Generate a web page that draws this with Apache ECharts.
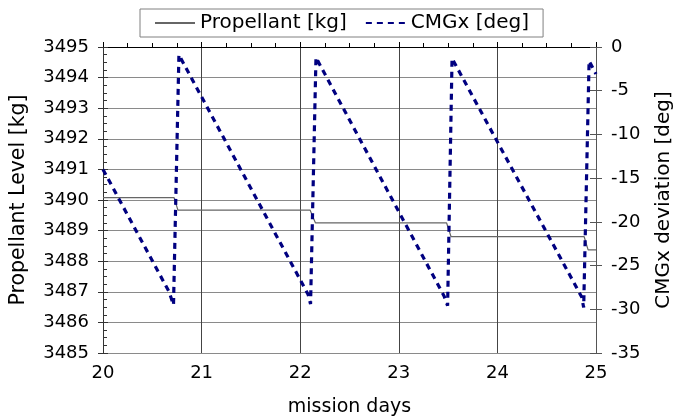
<!DOCTYPE html>
<html>
<head>
<meta charset="utf-8">
<script src="https://cdn.jsdelivr.net/npm/echarts@6/dist/echarts.min.js"></script>
<style>
  html, body { margin: 0; padding: 0; background: #fff; }
  #chart { width: 677px; height: 417px; }
</style>
</head>
<body>
<div id="chart"></div>
<script>
// mission days / propellant steps [kg]
var propDays = [20, 20.72, 20.76, 22.10, 22.155, 23.485, 23.53, 24.88, 24.92, 25];
var propKg   = [3490.08, 3490.08, 3489.67, 3489.67, 3489.25, 3489.25, 3488.8, 3488.8, 3488.37, 3488.37];
// CMGx deviation saw-tooth [deg]
var cmgDays = [20, 20.67, 20.715, 20.77, 22.08, 22.105, 22.16, 23.46, 23.495, 23.54, 24.855, 24.875, 24.93, 25];
var cmgDeg  = [-14, -28.0, -29.5, -0.9, -28.3, -29.4, -1.2, -28.5, -29.6, -1.3, -28.6, -29.8, -1.6, -3.1];

var FONT = 'DejaVu Sans';

function pairs(xs, ys) {
    var out = [];
    for (var i = 0; i < xs.length; i++) out.push([xs[i], ys[i]]);
    return out;
}
function plain(v) { return String(v); }

var chart = echarts.init(document.getElementById('chart'));
var tickFont = { color: '#000', fontFamily: FONT, fontSize: 18 };

option = {
    backgroundColor: '#fff',
    animation: false,
    textStyle: { fontFamily: FONT },
    grid: { left: 103, right: 81, top: 47, bottom: 64, outerBoundsMode: 'none', containLabel: false },
    legend: {
        left: 140, top: 9,
        padding: [4, 14, 4, 14],
        borderColor: '#808080', borderWidth: 1,
        itemWidth: 40, itemHeight: 12, itemGap: 18,
        itemStyle: { opacity: 0 },
        textStyle: { color: '#000', fontFamily: FONT, fontSize: 20 },
        data: ['Propellant [kg]', 'CMGx [deg]']
    },
    xAxis: {
        type: 'value', min: 20, max: 25, interval: 1,
        name: 'mission days', nameLocation: 'middle', nameGap: 45,
        nameTextStyle: { color: '#000', fontFamily: FONT, fontSize: 19 },
        axisLine: { lineStyle: { color: '#000', width: 1 } },
        axisTick: { inside: true, length: 5, lineStyle: { color: '#000' } },
        minorTick: { show: true, splitNumber: 4, length: 4, lineStyle: { color: '#000' } },
        axisLabel: Object.assign({ margin: 11, formatter: plain }, tickFont),
        splitLine: { show: true, lineStyle: { color: '#444', width: 1 } }
    },
    yAxis: [{
        type: 'value', position: 'left', min: 3485, max: 3495, interval: 1,
        name: 'Propellant Level [kg]', nameLocation: 'middle', nameGap: 74,
        nameTextStyle: { color: '#000', fontFamily: FONT, fontSize: 20.5 },
        axisLine: { show: true, lineStyle: { color: '#333' } },
        axisTick: { inside: true, length: 5, lineStyle: { color: '#333' } },
        minorTick: { show: true, splitNumber: 4, length: 4, lineStyle: { color: '#333' } },
        axisLabel: Object.assign({ margin: 14, formatter: plain }, tickFont),
        splitLine: { show: true, showMaxLine: false, lineStyle: { color: '#8a8a8a', width: 1 } }
    }, {
        type: 'value', position: 'right', min: -35, max: 0, interval: 5,
        name: 'CMGx deviation [deg]', nameLocation: 'middle', nameGap: 58,
        nameTextStyle: { color: '#000', fontFamily: FONT, fontSize: 20 },
        axisLine: { show: true, lineStyle: { color: '#555' } },
        axisTick: { inside: false, length: 6, lineStyle: { color: '#555' } },
        axisLabel: Object.assign({ margin: 15, formatter: plain }, tickFont),
        splitLine: { show: false }
    }, {
        // outward half of the crossing left ticks
        type: 'value', position: 'left', min: 3485, max: 3495, interval: 1,
        axisLine: { show: false },
        axisTick: { inside: false, length: 5, lineStyle: { color: '#333' } },
        axisLabel: { show: false }, splitLine: { show: false }
    }, {
        // inward half of the crossing right ticks
        type: 'value', position: 'right', min: -35, max: 0, interval: 5,
        axisLine: { show: false },
        axisTick: { inside: true, length: 6, lineStyle: { color: '#555' } },
        axisLabel: { show: false }, splitLine: { show: false }
    }],
    series: [{
        name: 'Propellant [kg]',
        type: 'line', yAxisIndex: 0,
        symbol: 'none',
        lineStyle: { color: '#666', width: 1.2 },
        itemStyle: { color: '#666' },
        data: pairs(propDays, propKg)
    }, {
        name: 'CMGx [deg]',
        type: 'line', yAxisIndex: 1,
        symbol: 'none',
        lineStyle: { color: '#000080', width: 3.2, type: [6, 5] },
        itemStyle: { color: '#000080' },
        data: pairs(cmgDays, cmgDeg)
    }]
};

chart.setOption(option);
</script>
</body>
</html>
